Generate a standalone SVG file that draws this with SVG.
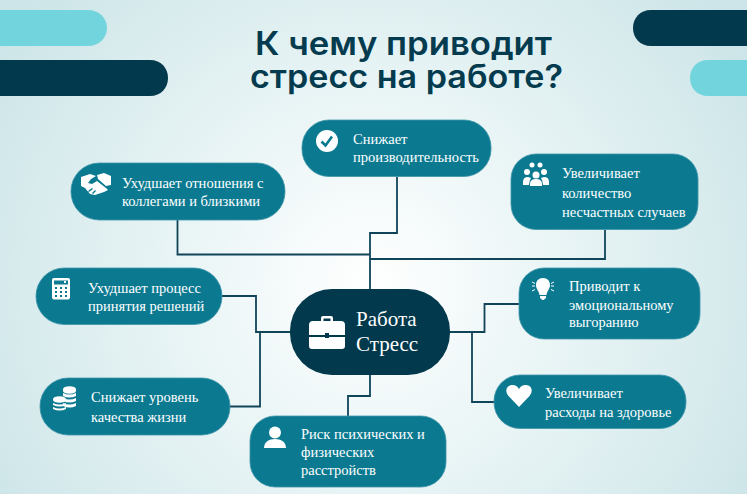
<svg xmlns="http://www.w3.org/2000/svg" width="747" height="494" viewBox="0 0 747 494">
<style>
.n{fill:#0b7a91;stroke:#3f94a8;stroke-width:.8}
.t{font-family:"Liberation Serif",serif;font-size:14.500px;fill:#fff}
.c{fill:none;stroke:#0f4459;stroke-width:1.800}
.h{font-family:Inter,"Noto Sans",sans-serif;font-size:32px;font-weight:600;fill:#043b4e}
.i{fill:#fff}
.k{fill:#0b7a91}
</style>
<defs>
<radialGradient id="bg" gradientUnits="userSpaceOnUse" cx="370" cy="285" r="440">
<stop offset="0" stop-color="#fff"/><stop offset=".5" stop-color="#e6f3f4"/><stop offset="1" stop-color="#cde5e8"/>
</radialGradient>
</defs>
<rect width="747" height="494" fill="url(#bg)"/>
<g id="decor">
<path d="M0 10H88C99 10 107 18 107 28S99 46 88 46H0Z" fill="#72d5dd"/>
<path d="M0 60H150C161 60 168 68 168 78S161 96 150 96H0Z" fill="#02394c"/>
<path d="M747 10H651C640 10 633 18 633 28S640 46 651 46H747Z" fill="#02394c"/>
<path d="M747 60H708C697 60 690 68 690 78S697 96 708 96H747Z" fill="#72d5dd"/>
</g>
<g id="title">
<text class="h" x="255" y="55" textLength="297" lengthAdjust="spacingAndGlyphs">К чему приводит</text>
<text class="h" x="250" y="88" textLength="313" lengthAdjust="spacingAndGlyphs">стресс на работе?</text>
</g>
<g id="connectors">
<path class="c" d="M397 177V233H370V289"/>
<path class="c" d="M177.500 220V254.500H370"/>
<path class="c" d="M605 230V259H370"/>
<path class="c" d="M222 296H256V332H290"/>
<path class="c" d="M230 406.500H260V332"/>
<path class="c" d="M348 416V396H370V375"/>
<path class="c" d="M450 332H484.500V304H519"/>
<path class="c" d="M472 332V402H494"/>
</g>
<g id="node-center">
<rect x="290" y="289" width="160" height="86" rx="42" fill="#02394c"/>
<path class="i" d="M321 321V318Q321 316 323 316H331Q333 316 333 318V321H341Q345 321 345 325V335H329V333H325V335H309V325Q309 321 313 321ZM323.500 321H330.500V318.500H323.500ZM309 337H325V338H329V337H345V346Q345 349 342 349H312Q309 349 309 346Z"/>
<text x="356" y="326" font-family="'Liberation Serif',serif" font-size="21" fill="#fff">Работа</text>
<text x="356" y="351" font-family="'Liberation Serif',serif" font-size="21" fill="#fff">Стресс</text>
</g>
<g id="node-productivity">
<rect class="n" x="302" y="120" width="189" height="56.500" rx="27"/>
<circle class="i" cx="327" cy="141" r="11"/>
<path d="M321.500 141.500L325.500 145.500L332 136.500" fill="none" stroke="#0b7a91" stroke-width="2.600"/>
<text class="t" x="353" y="144">Снижает</text>
<text class="t" x="353" y="162">производительность</text>
</g>
<g id="node-relations">
<rect class="n" x="71" y="163" width="214" height="57" rx="28"/>
<path class="i" d="M81 177L90 174L96 176L91 179L88 183L92 184L97 181L106 188L108 190L104 192L95 195L90 194L85 188L81 186ZM97 175L104 173L111 176V185L106 186L98 179Z"/>
<path class="k" d="M88 191l4-3 1 1-4 3zM92 193l3-3 1 1-3 3z"/>
<text class="t" x="122" y="188">Ухудшает отношения с</text>
<text class="t" x="122" y="206">коллегами и близкими</text>
</g>
<g id="node-accidents">
<rect class="n" x="511" y="154" width="187" height="75.500" rx="25"/>
<g class="i">
<circle cx="532" cy="165" r="2.500"/><circle cx="540" cy="165" r="2.500"/>
<circle cx="527" cy="172" r="3"/><circle cx="544" cy="172" r="3"/><circle cx="536" cy="175" r="3.500"/>
<path d="M523 185V182Q523 177 528 177L531 178Q529 181 529 185ZM549 185V182Q549 177 544 177L541 178Q543 181 543 185Z"/>
<path d="M530 186V184Q530 179 536 179T542 184V186Z"/>
</g>
<text class="t" x="562" y="178">Увеличивает</text>
<text class="t" x="562" y="198">количество</text>
<text class="t" x="562" y="217">несчастных случаев</text>
</g>
<g id="node-burnout">
<rect class="n" x="519" y="268" width="181" height="71" rx="25"/>
<path class="i" d="M543 278C547.500 278 550 281 550 285C550 289 547 291 546.500 295H539.500C539 291 536 289 536 285C536 281 538.500 278 543 278ZM540 296H546V298L543.500 300H542.500L540 298Z"/>
<path d="M532 282l3 1.500M532 291l3-1.500M551 283.500l3-1.500M551 289.500l3 1.500M535 286h-3M551 286h3" stroke="#fff" stroke-width="1" fill="none"/>
<text class="t" x="569" y="291">Приводит к</text>
<text class="t" x="569" y="310">эмоциональному</text>
<text class="t" x="569" y="327">выгоранию</text>
</g>
<g id="node-decisions">
<rect class="n" x="36" y="268" width="186" height="56.500" rx="28"/>
<rect class="i" x="52" y="278" width="18" height="21.500" rx="2"/>
<g class="k">
<rect x="54" y="280.500" width="14" height="4"/>
<path d="M55 287h2v2h-2zM60 287h2v2h-2zM65 287h2v2h-2zM55 291h2v2h-2zM60 291h2v2h-2zM65 291h2v2h-2zM55 295h2v2h-2zM60 295h2v2h-2zM65 295h2v2h-2z"/>
</g>
<rect class="i" x="64" y="281" width="2" height="2"/>
<text class="t" x="88" y="293">Ухудшает процесс</text>
<text class="t" x="88" y="311">принятия решений</text>
</g>
<g id="node-life">
<rect class="n" x="40" y="378" width="190" height="57" rx="28"/>
<g class="i">
<path d="M63 389a6 2.500 0 0 1 13 0v2a6 2.500 0 0 1-13 0zM63 393q6.500 3 13 0v3q-6.500 3-13 0zM63 398q6.500 3 13 0v3q-6.500 3-13 0zM63 403q6.500 3 13 0v3q-6.500 3-13 0z"/>
<path d="M53 399a6 2.500 0 0 1 13 0v1a6 2.500 0 0 1-13 0zM53 403q6.500 3 13 0v2q-6.500 3-13 0zM53 407q6.500 3 13 0v2q-6.500 3-13 0z"/>
</g>
<text class="t" x="91" y="402">Снижает уровень</text>
<text class="t" x="91" y="422">качества жизни</text>
</g>
<g id="node-risk">
<rect class="n" x="250" y="416" width="196" height="71" rx="25"/>
<circle class="i" cx="275" cy="432.500" r="6"/>
<path class="i" d="M264 448C264 442 269 439 275 439S286 442 286 448Z"/>
<text class="t" x="301" y="439">Риск психических и</text>
<text class="t" x="301" y="457">физических</text>
<text class="t" x="301" y="475">расстройств</text>
</g>
<g id="node-health">
<rect class="n" x="494" y="375" width="192" height="53.500" rx="26"/>
<path class="i" d="M519 407L508.500 396C504 390 507 385 512.500 385C515.500 385 517.500 386.500 519 389C520.500 386.500 522.500 385 525.500 385C531 385 534 390 529.500 396Z"/>
<text class="t" x="545" y="398">Увеличивает</text>
<text class="t" x="545" y="417">расходы на здоровье</text>
</g>
</svg>
